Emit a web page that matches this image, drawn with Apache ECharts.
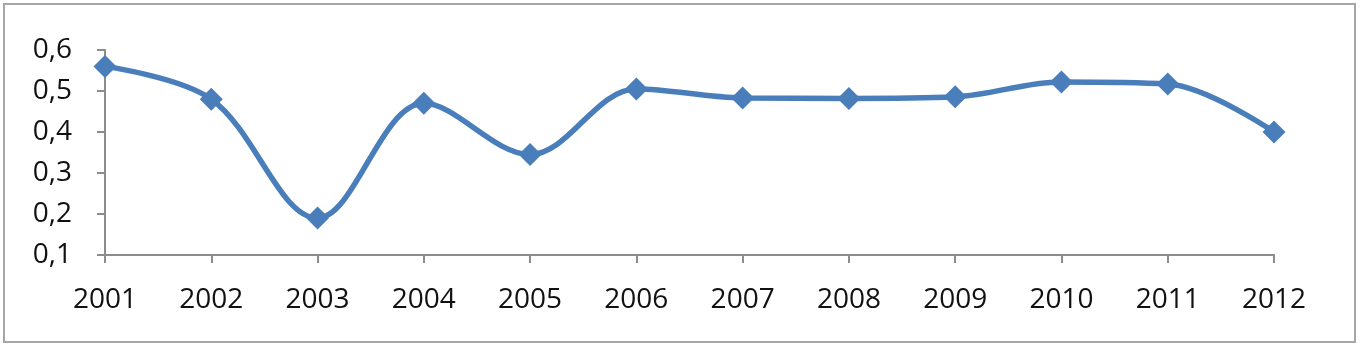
<!DOCTYPE html>
<html><head><meta charset="utf-8">
<script src="https://cdn.jsdelivr.net/npm/echarts@6/dist/echarts.min.js"></script>
<style>html,body{margin:0;padding:0;background:#fff}#c{width:1360px;height:349px}</style>
</head><body><div id="c"></div>
<script>
const years = ['2001','2002','2003','2004','2005','2006','2007','2008','2009','2010','2011','2012'];
const values = [0.56, 0.48, 0.19, 0.47, 0.345, 0.505, 0.483, 0.482, 0.486, 0.522, 0.517, 0.40];
const yMin = 0.1, yMax = 0.6, yStep = 0.1;

const chart = echarts.init(document.getElementById('c'));
chart.setOption({
  animation: false,
  graphic: [{type:'rect', shape:{x:4,y:4,width:1351,height:338}, style:{fill:'none', stroke:'#a6a6a6', lineWidth:2}}],
  grid: {left:105, right:86, top:50, bottom:94},
  xAxis: {
    type:'category', data: years, boundaryGap:false,
    axisLine:{lineStyle:{color:'#8c8c8c', width:2}},
    axisTick:{show:true, alignWithLabel:true, length:8, lineStyle:{color:'#8c8c8c', width:2}},
    axisLabel:{color:'#111', fontSize:28, fontFamily:'Open Sans', margin:31}
  },
  yAxis: {
    type:'value', min:yMin, max:yMax, interval:yStep,
    splitLine:{show:false},
    axisLine:{show:true, lineStyle:{color:'#8c8c8c', width:2}},
    axisTick:{show:true, length:8, lineStyle:{color:'#8c8c8c', width:2}},
    axisLabel:{color:'#111', fontSize:28, fontFamily:'Open Sans', margin:33,
      formatter: v => v.toFixed(1).replace('.', ',')}
  },
  series: [{
    type:'line', data: values, smooth:0.35,
    lineStyle:{color:'#4a7ebb', width:5.5},
    itemStyle:{color:'#4a7ebb'},
    symbol:'diamond', symbolSize:23, showSymbol:true
  }]
});
</script></body></html>
